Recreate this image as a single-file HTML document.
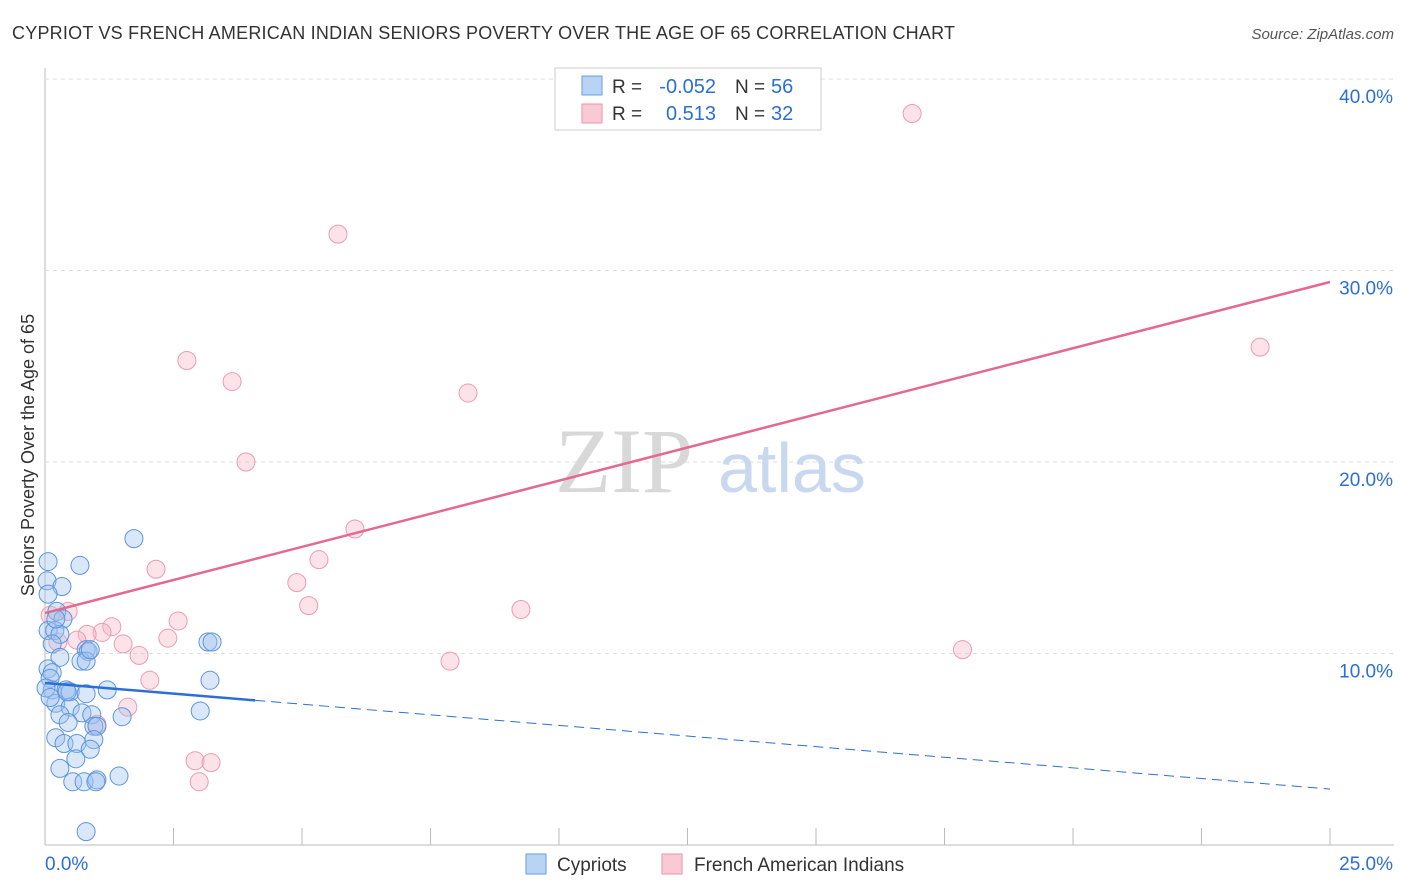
<!DOCTYPE html>
<html><head><meta charset="utf-8"><style>
body{margin:0;background:#fff;font-family:"Liberation Sans",sans-serif;}
#wrap{position:relative;width:1406px;height:892px;overflow:hidden;}
</style></head><body>
<div id="wrap">
<svg id="svg" width="1406" height="892" xmlns="http://www.w3.org/2000/svg">
<text x="12" y="39" font-size="18" fill="#333" textLength="943">CYPRIOT VS FRENCH AMERICAN INDIAN SENIORS POVERTY OVER THE AGE OF 65 CORRELATION CHART</text>
<text x="1394" y="39" font-size="15" fill="#555" font-style="italic" text-anchor="end">Source: ZipAtlas.com</text>
<text x="34" y="455" font-size="18" fill="#333" text-anchor="middle" transform="rotate(-90 34 455)">Seniors Poverty Over the Age of 65</text>
<g id="grid"></g>
<text x="555" y="492" font-size="92" fill="#d8d8d8" font-family="Liberation Serif">ZIP</text>
<text x="718" y="492" font-size="70" fill="#c8d8ef">atlas</text>
<g id="marks"></g>
<g>
<rect x="555" y="68" width="266" height="62" fill="#fff" stroke="#ccc"/>
<rect x="582" y="76" width="20" height="19" fill="#b8d3f3" stroke="#6a9ee0"/>
<rect x="582" y="104" width="20" height="19" fill="#f9c9d6" stroke="#ee93ad"/>
<text x="612" y="93" font-size="19" fill="#333">R =</text>
<text x="716" y="93" font-size="20" fill="#2b6fd6" text-anchor="end">-0.052</text>
<text x="735" y="93" font-size="19" fill="#333">N =</text>
<text x="771" y="93" font-size="20" fill="#2b6fd6">56</text>
<text x="612" y="120" font-size="19" fill="#333">R =</text>
<text x="716" y="120" font-size="20" fill="#2b6fd6" text-anchor="end">0.513</text>
<text x="735" y="120" font-size="19" fill="#333">N =</text>
<text x="771" y="120" font-size="20" fill="#2b6fd6">32</text>
</g>
<g>
<rect x="526" y="854" width="20" height="20" fill="#b8d3f3" stroke="#6a9ee0"/>
<text x="557" y="871" font-size="19" fill="#333">Cypriots</text>
<rect x="662" y="854" width="20" height="20" fill="#f9c9d6" stroke="#ee93ad"/>
<text x="694" y="871" font-size="19" fill="#333">French American Indians</text>
</g>
</svg>
</div>
<script>
const blueX=[0.06,0.04,0.33,0.68,1.73,0.23,0.35,0.06,0.19,0.29,0.14,0.29,0.80,0.84,0.70,0.80,0.88,3.17,3.25,0.06,0.14,0.10,0.14,0.02,0.41,0.49,0.80,1.21,3.21,0.21,0.49,0.29,0.72,0.91,1.50,3.02,0.45,0.95,1.01,0.21,0.37,0.62,0.95,0.88,0.60,0.29,0.54,0.76,1.01,0.99,1.44,0.80,0.06,0.21,0.10,0.43];
const blueY=[14.8,13.8,13.5,14.6,16.0,12.2,11.8,11.2,11.2,11.0,10.5,9.8,10.2,10.1,9.6,9.6,10.2,10.6,10.6,9.2,9.0,8.7,8.1,8.2,8.1,8.0,7.9,8.1,8.6,7.4,7.2,6.8,6.9,6.8,6.7,7.0,6.4,6.2,6.2,5.6,5.3,5.3,5.5,5.0,4.5,4.0,3.3,3.3,3.4,3.3,3.6,0.7,13.1,11.8,7.7,8.0];
const pinkX=[16.87,5.70,2.76,3.64,3.91,8.23,23.64,6.03,5.33,4.90,2.16,5.13,9.26,2.59,2.39,1.83,1.52,1.30,1.11,0.82,0.45,0.25,0.62,17.85,7.88,2.04,1.61,1.01,2.92,3.23,3.00,0.10];
const pinkY=[38.2,31.9,25.3,24.2,20.0,23.6,26.0,16.5,14.9,13.7,14.4,12.5,12.3,11.7,10.8,9.9,10.5,11.4,11.1,11.0,12.2,10.6,10.7,10.2,9.6,8.6,7.2,6.3,4.4,4.3,3.3,12.0];
const xTicks=[0,25];
const yTicks=[10,20,30,40];
const blueFit=[8.46,2.92];const blueSolidEnd=4.09;
const pinkFit=[12.11,29.40];
const NS="http://www.w3.org/2000/svg";
const X=v=>45+v/25*1285, Y=v=>845-v/10*191.5;
function mk(t,a,p){const e=document.createElementNS(NS,t);for(const k in a)e.setAttribute(k,a[k]);p.appendChild(e);return e;}
const g=document.getElementById('grid'),m=document.getElementById('marks');
let ax=mk('line',{x1:45,y1:68,x2:45,y2:845,stroke:'#bbb'},g);

let bx=mk('line',{x1:45,y1:845,x2:1394,y2:845,stroke:'#bbb'},g);

for(let i=1;i<=10;i++){let t=mk('line',{x1:X(i*2.5),y1:828,x2:X(i*2.5),y2:845,stroke:'#bbb'},g);
}
yTicks.forEach(v=>{let l=mk('line',{x1:45,y1:Y(v),x2:1394,y2:Y(v),stroke:'#ddd','stroke-dasharray':'4 4'},g);

let t=mk('text',{x:1393,y:Y(v)+24,'font-size':19,fill:'#2b6fd6','text-anchor':'end'},g);t.textContent=v.toFixed(1)+'%';
});
xTicks.forEach((v,i)=>{let t=mk('text',{x:i?1393:45,y:870,'font-size':19,fill:'#2b6fd6','text-anchor':i?'end':'start'},g);t.textContent=v.toFixed(1)+'%';
});
pinkX.forEach((v,i)=>{let c=mk('circle',{cx:X(v),cy:Y(pinkY[i]),r:9,fill:'rgba(247,182,201,0.4)',stroke:'#ee9ab2','stroke-width':1},m);
});
blueX.forEach((v,i)=>{let c=mk('circle',{cx:X(v),cy:Y(blueY[i]),r:9,fill:'rgba(160,196,240,0.4)',stroke:'#5d95dc','stroke-width':1},m);
});
const bAt=x=>blueFit[0]+(blueFit[1]-blueFit[0])*x/25;
let b1=mk('line',{x1:X(0),y1:Y(bAt(0)),x2:X(blueSolidEnd),y2:Y(bAt(blueSolidEnd)),stroke:'#2b6fd6','stroke-width':2.5},m);

let b2=mk('line',{x1:X(blueSolidEnd),y1:Y(bAt(blueSolidEnd)),x2:X(25),y2:Y(bAt(25)),stroke:'#2b6fd6','stroke-width':1,'stroke-dasharray':'10 6'},m);

let p1=mk('line',{x1:X(0),y1:Y(pinkFit[0]),x2:X(25),y2:Y(pinkFit[1]),stroke:'#e5688f','stroke-width':2.5},m);

</script>
</body></html>
